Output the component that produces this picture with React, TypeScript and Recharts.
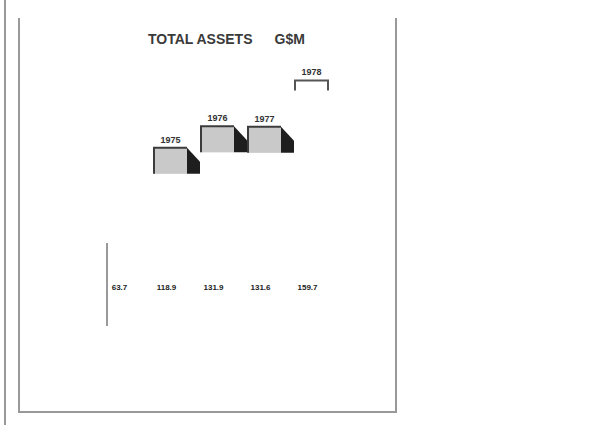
import React from 'react';
import { BarChart, Bar, XAxis, YAxis, LabelList } from 'recharts';

// Total assets, G$M, by year
const years = ['1974', '1975', '1976', '1977', '1978'];
const totalAssets = [63.7, 118.9, 131.9, 131.6, 159.7];
const yearLabels = ['', '1975', '1976', '1977', '1978'];
const valueLabels = ['63.7', '118.9', '131.9', '131.6', '159.7'];

// how each bar survives in the scanned print
const barLooks = ['edge', 'cap', 'cap', 'cap', 'bracket'];

const data = years.map((year, i) => ({
  year,
  value: totalAssets[i],
  yearLabel: yearLabels[i],
  valueLabel: valueLabels[i],
}));

const CappedBar = (props: any) => {
  const { x, y, width, height, index } = props;
  const look = barLooks[index];
  const cap = 26;
  if (look === 'edge') {
    return <line x1={x} y1={y + 4} x2={x} y2={y + height - 18} stroke="#777" strokeWidth={1.5} />;
  }
  if (look === 'bracket') {
    return (
      <path
        d={`M${x},${y + 10} V${y} H${x + width} V${y + 10}`}
        fill="none"
        stroke="#555"
        strokeWidth={2}
      />
    );
  }
  return (
    <g>
      <polygon
        points={`${x + width},${y} ${x + width + 13},${y + 14} ${x + width + 13},${y + cap} ${x + width},${y + cap}`}
        fill="#1e1e1e"
      />
      <rect x={x} y={y} width={width} height={cap} fill="#c9c9c9" />
      <path
        d={`M${x},${y + cap} V${y} H${x + width}`}
        fill="none"
        stroke="#3c3c3c"
        strokeWidth={2}
      />
    </g>
  );
};

const YearLabel = (props: any) => {
  const { x, y, width, value } = props;
  if (!value) return null;
  return (
    <text x={x + width / 2} y={y - 5} textAnchor="middle" fontSize={9} fontWeight="bold" fill="#333"
      fontFamily="'Liberation Sans', Arial, sans-serif">
      {value}
    </text>
  );
};

const ValueLabel = (props: any) => {
  const { x, y, width, height, value } = props;
  return (
    <text x={x + width / 2 - 4} y={y + height - 54} textAnchor="middle" fontSize={8} fontWeight="bold" fill="#222"
      fontFamily="'Liberation Sans', Arial, sans-serif">
      {value}
    </text>
  );
};

export default function App() {
  return (
    <div style={{ position: 'absolute', left: 0, top: 0, width: 603, height: 425, background: '#fff' }}>
      {/* page edges of the scan */}
      <div style={{ position: 'absolute', left: 4, top: 0, width: 2, height: 425, background: '#999' }} />
      <div
        style={{
          position: 'absolute',
          left: 18,
          top: 18,
          width: 375,
          height: 393,
          borderLeft: '2px solid #999',
          borderRight: '2px solid #999',
          borderBottom: '2px solid #999',
        }}
      />
      <div
        style={{
          position: 'absolute',
          left: 148,
          top: 31,
          fontFamily: "'Liberation Sans', Arial, sans-serif",
          fontWeight: 'bold',
          fontSize: 14,
          color: '#3a3a3a',
          whiteSpace: 'nowrap',
        }}
      >
        TOTAL ASSETS<span style={{ marginLeft: 22 }}>G$M</span>
      </div>
      <div style={{ position: 'absolute', left: 0, top: 0 }}>
        <BarChart
          width={603}
          height={425}
          data={data}
          margin={{ top: 47, right: 268, bottom: 81, left: 100 }}
          barSize={33}
        >
          <XAxis dataKey="year" hide />
          <YAxis domain={[0, 180]} hide />
          <Bar dataKey="value" shape={<CappedBar />} isAnimationActive={false}>
            <LabelList dataKey="yearLabel" content={<YearLabel />} />
            <LabelList dataKey="valueLabel" content={<ValueLabel />} />
          </Bar>
        </BarChart>
      </div>
    </div>
  );
}
